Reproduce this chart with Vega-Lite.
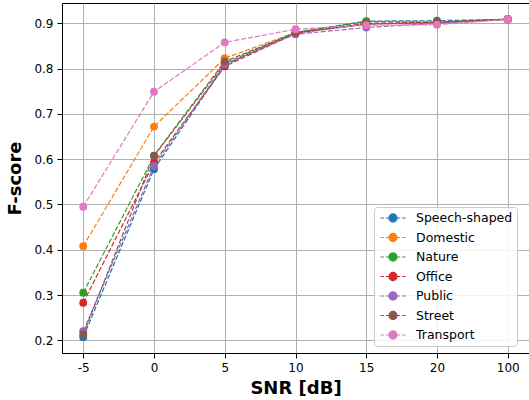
{
  "$schema": "https://vega.github.io/schema/vega-lite/v6.json",
  "width": 467,
  "height": 350,
  "autosize": {"type": "none"},
  "padding": {"left": 62, "top": 3, "right": 0, "bottom": 47},
  "background": "white",
  "config": {
    "font": "DejaVu Sans",
    "view": {"stroke": "#000000", "strokeWidth": 1},
    "axis": {
      "labelFont": "DejaVu Sans",
      "labelFontSize": 12,
      "labelColor": "#000000",
      "titleFont": "DejaVu Sans",
      "titleFontSize": 18,
      "titleFontWeight": "bold",
      "titleColor": "#000000",
      "tickColor": "#000000",
      "tickSize": 5,
      "domain": false,
      "gridColor": "#b0b0b0",
      "gridWidth": 1,
      "gridOpacity": 1
    }
  },
  "data": {
    "values": [
      {"snr": "-5", "noise": "Speech-shaped", "f": 0.207},
      {"snr": "0", "noise": "Speech-shaped", "f": 0.578},
      {"snr": "5", "noise": "Speech-shaped", "f": 0.808},
      {"snr": "10", "noise": "Speech-shaped", "f": 0.880},
      {"snr": "15", "noise": "Speech-shaped", "f": 0.905},
      {"snr": "20", "noise": "Speech-shaped", "f": 0.906},
      {"snr": "100", "noise": "Speech-shaped", "f": 0.909},
      {"snr": "-5", "noise": "Domestic", "f": 0.408},
      {"snr": "0", "noise": "Domestic", "f": 0.672},
      {"snr": "5", "noise": "Domestic", "f": 0.823},
      {"snr": "10", "noise": "Domestic", "f": 0.880},
      {"snr": "15", "noise": "Domestic", "f": 0.899},
      {"snr": "20", "noise": "Domestic", "f": 0.902},
      {"snr": "100", "noise": "Domestic", "f": 0.909},
      {"snr": "-5", "noise": "Nature", "f": 0.305},
      {"snr": "0", "noise": "Nature", "f": 0.607},
      {"snr": "5", "noise": "Nature", "f": 0.812},
      {"snr": "10", "noise": "Nature", "f": 0.880},
      {"snr": "15", "noise": "Nature", "f": 0.904},
      {"snr": "20", "noise": "Nature", "f": 0.903},
      {"snr": "100", "noise": "Nature", "f": 0.909},
      {"snr": "-5", "noise": "Office", "f": 0.283},
      {"snr": "0", "noise": "Office", "f": 0.592},
      {"snr": "5", "noise": "Office", "f": 0.805},
      {"snr": "10", "noise": "Office", "f": 0.878},
      {"snr": "15", "noise": "Office", "f": 0.900},
      {"snr": "20", "noise": "Office", "f": 0.902},
      {"snr": "100", "noise": "Office", "f": 0.909},
      {"snr": "-5", "noise": "Public", "f": 0.220},
      {"snr": "0", "noise": "Public", "f": 0.585},
      {"snr": "5", "noise": "Public", "f": 0.810},
      {"snr": "10", "noise": "Public", "f": 0.876},
      {"snr": "15", "noise": "Public", "f": 0.891},
      {"snr": "20", "noise": "Public", "f": 0.900},
      {"snr": "100", "noise": "Public", "f": 0.909},
      {"snr": "-5", "noise": "Street", "f": 0.213},
      {"snr": "0", "noise": "Street", "f": 0.608},
      {"snr": "5", "noise": "Street", "f": 0.816},
      {"snr": "10", "noise": "Street", "f": 0.879},
      {"snr": "15", "noise": "Street", "f": 0.898},
      {"snr": "20", "noise": "Street", "f": 0.902},
      {"snr": "100", "noise": "Street", "f": 0.909},
      {"snr": "-5", "noise": "Transport", "f": 0.495},
      {"snr": "0", "noise": "Transport", "f": 0.749},
      {"snr": "5", "noise": "Transport", "f": 0.858},
      {"snr": "10", "noise": "Transport", "f": 0.887},
      {"snr": "15", "noise": "Transport", "f": 0.896},
      {"snr": "20", "noise": "Transport", "f": 0.897},
      {"snr": "100", "noise": "Transport", "f": 0.909}
    ]
  },
  "encoding": {
    "x": {
      "field": "snr",
      "type": "ordinal",
      "sort": ["-5", "0", "5", "10", "15", "20", "100"],
      "scale": {"type": "point", "padding": 0.3},
      "axis": {"title": "SNR [dB]", "labelAngle": 0, "labelPadding": 4, "titlePadding": 6, "grid": true}
    },
    "y": {
      "field": "f",
      "type": "quantitative",
      "scale": {"domain": [0.172, 0.945], "nice": false, "zero": false},
      "axis": {"title": "F-score", "values": [0.2, 0.3, 0.4, 0.5, 0.6, 0.7, 0.8, 0.9], "format": ".1f", "labelPadding": 4, "titlePadding": 9, "grid": true}
    },
    "color": {
      "field": "noise",
      "type": "nominal",
      "sort": ["Speech-shaped", "Domestic", "Nature", "Office", "Public", "Street", "Transport"],
      "scale": {
        "domain": ["Speech-shaped", "Domestic", "Nature", "Office", "Public", "Street", "Transport"],
        "range": ["#1f77b4", "#ff7f0e", "#2ca02c", "#d62728", "#9467bd", "#8c564b", "#e377c2"]
      },
      "legend": {
        "title": null,
        "orient": "none",
        "legendX": 312,
        "legendY": 204,
        "direction": "vertical",
        "columns": 1,
        "padding": 4,
        "fillColor": "rgba(255,255,255,0.85)",
        "strokeColor": "#cccccc",
        "cornerRadius": 3,
        "labelFont": "DejaVu Sans",
        "labelFontSize": 12.5,
        "labelColor": "#000000",
        "labelOffset": 16,
        "rowPadding": 5.5,
        "symbolOffset": 8,
        "symbolSize": 156,
        "symbolType": "M-2,0H-1.45M-1.15,0H-0.65M0.65,0H1.15M1.45,0H2M-0.65,0A0.65,0.65 0 1,1 0.65,0A0.65,0.65 0 1,1 -0.65,0Z",
        "symbolStrokeWidth": 1.2,
        "encode": {
          "symbols": {
            "update": {
              "stroke": {"scale": "color", "field": "value"},
              "fill": {"scale": "color", "field": "value"},
              "strokeWidth": {"value": 1.2},
              "opacity": {"value": 1}
            }
          }
        }
      }
    }
  },
  "layer": [
    {
      "mark": {"type": "line", "strokeDash": [5, 2], "strokeWidth": 1.2}
    },
    {
      "mark": {"type": "point", "filled": true, "size": 62, "opacity": 1, "shape": "circle"}
    }
  ]
}
